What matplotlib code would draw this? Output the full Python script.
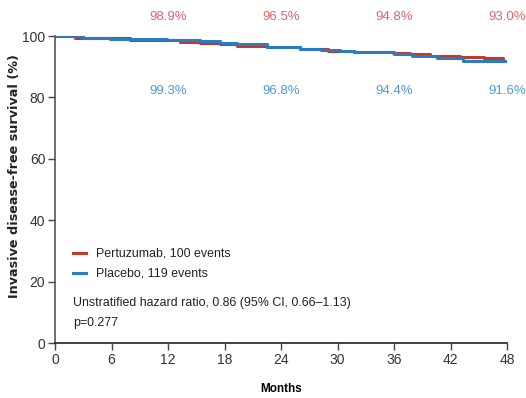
import matplotlib.pyplot as plt

# (step curves)
months_pert = [0, 2.1, 8, 13.3, 15.4, 17.5, 19.3, 22.5, 26, 29, 31.7, 35.9, 37.7, 39.8, 43, 45.5, 47.6, 48]
surv_pert = [100, 99.2, 98.6, 98.0, 97.7, 97.3, 96.7, 96.4, 95.8, 95.2, 94.8, 94.6, 94.1, 93.6, 93.3, 92.8, 92.0, 92.0]
months_plac = [0, 3, 5.8, 11.9, 15.4, 17.5, 19.3, 22.5, 26, 28.2, 30.3, 31.7, 36, 37.9, 40.6, 43.3, 48]
surv_plac = [100, 99.5, 99.1, 98.7, 98.3, 97.8, 97.3, 96.5, 95.8, 95.4, 95.0, 94.8, 94.1, 93.4, 92.7, 92.0, 92.0]

label_months = [12, 24, 36, 48]
pert_labels = ['98.9%', '96.5%', '94.8%', '93.0%']
plac_labels = ['99.3%', '96.8%', '94.4%', '91.6%']

font = 'Liberation Sans'
red = '#c0392b'
blue = '#2a7bbf'

fig = plt.figure(figsize=(5.26, 3.98), dpi=100)
ax = fig.add_axes([0.1046, 0.138, 0.8594, 0.7715])

ax.step(months_pert, surv_pert, where='post', color=red, lw=2.2)
ax.step(months_plac, surv_plac, where='post', color=blue, lw=2.2)

for m, a, b in zip(label_months, pert_labels, plac_labels):
    ax.text(m, 106.2, a, color='#e06666', ha='center', va='center', fontsize=9.5, family=font, clip_on=False)
    ax.text(m, 82.1, b, color='#4d9ad6', ha='center', va='center', fontsize=9.5, family=font)

# legend drawn by hand
ax.plot([1.9, 3.3], [29.3, 29.3], color=red, lw=2.2)
ax.plot([1.9, 3.3], [22.8, 22.8], color=blue, lw=2.2)
ax.text(4.3, 29.3, 'Pertuzumab, 100 events', va='center', fontsize=8.9, family=font, color='#222222')
ax.text(4.3, 22.8, 'Placebo, 119 events', va='center', fontsize=8.9, family=font, color='#222222')
ax.text(1.9, 13.0, 'Unstratified hazard ratio, 0.86 (95% CI, 0.66\u20131.13)', va='center', fontsize=8.9, family=font, color='#222222')
ax.text(1.9, 6.5, 'p=0.277', va='center', fontsize=8.9, family=font, color='#222222')

ax.set_xlim(0, 48)
ax.set_ylim(0, 100)
ax.set_xticks(range(0, 49, 6))
ax.set_yticks(range(0, 101, 20))
for lab in ax.get_xticklabels() + ax.get_yticklabels():
    lab.set_family(font)
    lab.set_fontsize(10)
    lab.set_color('#333333')
ax.tick_params(length=5, width=1, color='#444444', pad=2)
ax.spines['top'].set_visible(False)
ax.spines['right'].set_visible(False)
ax.spines['left'].set_color('#555555')
ax.spines['bottom'].set_color('#222222')
ax.spines['left'].set_linewidth(1.2)
ax.spines['bottom'].set_linewidth(1.2)

ax.set_xlabel('Months', fontsize=8.5, fontweight='bold', family=font, labelpad=12)
ax.set_ylabel('Invasive disease-free survival (%)', fontsize=9.2, fontweight='bold', family='DejaVu Sans', color='#222222')
ax.yaxis.set_label_coords(-0.075, 0.544)

fig.savefig('out.png', dpi=100)
